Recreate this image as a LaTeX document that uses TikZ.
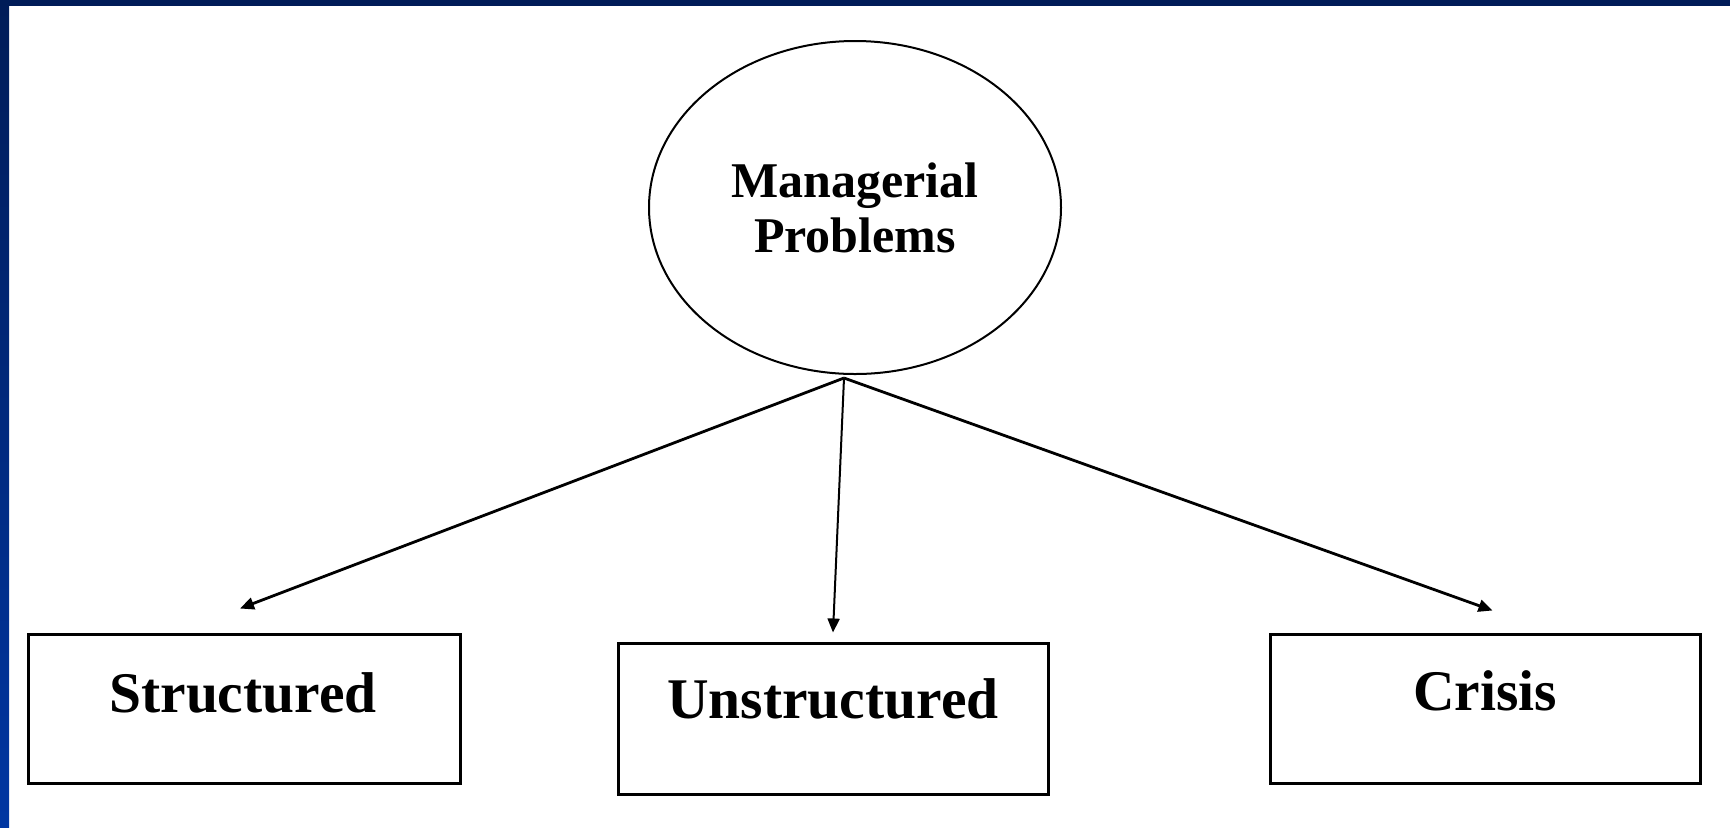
\documentclass[tikz,border=0pt]{standalone}
\usepackage{fontspec}
\setmainfont{Liberation Serif}
\usetikzlibrary{arrows.meta,shapes.geometric}

\definecolor{navytop}{HTML}{001C58}
\definecolor{navybottom}{HTML}{0036A2}

\tikzset{
  px/.style={x=0.5pt,y=-0.5pt},
  catbox/.style={draw=black,line width=1.5pt,rectangle,inner sep=0pt},
  catlabel/.style={anchor=base,inner sep=0pt,font=\bfseries\fontsize{28.75}{31}\selectfont},
  rootnode/.style={draw=black,line width=1pt,ellipse,inner sep=0pt,
    minimum width=206pt,minimum height=166.5pt,align=center,
    font=\bfseries\fontsize{25}{27.5}\selectfont},
  branch/.style={draw=black,line width=1.4pt,-{Triangle[length=7pt,width=6pt]}},
  stem/.style={draw=black,line width=1pt,-{Triangle[length=7pt,width=6pt]}}
}

\begin{document}
\begin{tikzpicture}[px]
  % canvas and frame
  \useasboundingbox (0,0) rectangle (1730,827);
  \fill[white] (0,0) rectangle (1730,827);
  \fill[navytop] (0,0) rectangle (1730,6);
  \shade[top color=navytop,bottom color=navybottom] (0,0) rectangle (9,827);

  % root of the classification
  \node[rootnode] (mp) at (855,207.5) {Managerial\\Problems};

  % the three kinds of problems
  \node[catbox,minimum width=216pt,minimum height=74.5pt] (s) at (244,708.5) {};
  \node[catbox,minimum width=215pt,minimum height=75.5pt] (u) at (833,718.5) {};
  \node[catbox,minimum width=215pt,minimum height=74.5pt] (c) at (1485.5,708.5) {};

  \node[catlabel] (slbl) at (243,712) {Structured};
  \node[catlabel] (ulbl) at (833,718) {Unstructured};
  \node[catlabel] (clbl) at (1485,710) {Crisis};

  % connectors
  \coordinate (hub) at (844,378);
  \draw[branch] (hub) -- ([xshift=-2pt,yshift=12pt]s.north);
  \draw[stem] (hub) -- ([yshift=4.5pt]u.north);
  \draw[branch] (hub) -- ([xshift=3.5pt,yshift=11pt]c.north);
\end{tikzpicture}
\end{document}
